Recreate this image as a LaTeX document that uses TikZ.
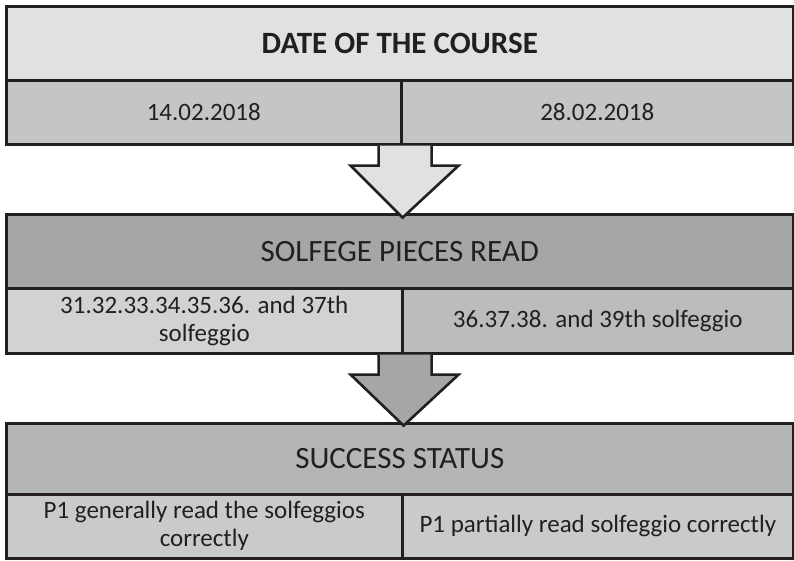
\documentclass[tikz,border=0pt]{standalone}
\usepackage{fontspec}
\setmainfont{Carlito}
\usetikzlibrary{calc}
\definecolor{edge}{HTML}{231F20}
\definecolor{hdA}{HTML}{E0E1E3}
\definecolor{rowA}{HTML}{C4C5C7}
\definecolor{hdB}{HTML}{A5A6A8}
\definecolor{rowBl}{HTML}{D1D2D4}
\definecolor{rowBr}{HTML}{BBBCBE}
\definecolor{hdC}{HTML}{B4B5B7}
\definecolor{rowC}{HTML}{C9CACC}
\tikzset{
  cell/.style={draw=edge, line width=2.6pt, anchor=north west, inner sep=0pt,
    align=center, text=edge, font=\fontsize{25}{28}\selectfont},
  head/.style={cell, font=\fontsize{31}{34}\selectfont},
  flow/.style={draw=edge, line width=2.6pt, line join=miter},
}
\begin{document}
\begin{tikzpicture}[x=1pt,y=-1pt]
\useasboundingbox (0,0) rectangle (794,560);
% first block: course dates
\node[head, fill=hdA, minimum width=787pt, minimum height=74pt, font=\fontsize{31}{34}\selectfont\bfseries] (h1) at (5,5) {DATE OF THE COURSE};
\node[cell, fill=rowA, minimum width=395pt, minimum height=64pt] (a1) at (5,79) {14.02.2018};
\node[cell, fill=rowA, minimum width=392pt, minimum height=64pt] (b1) at (400,79) {28.02.2018};
% second block: pieces read
\node[head, fill=hdB, minimum width=787pt, minimum height=74pt] (h2) at (5,213) {SOLFEGE PIECES READ};
\node[cell, fill=rowBl, minimum width=396pt, minimum height=65pt] (a2) at (5,287) {31.32.33.34.35.36. and 37th\\solfeggio};
\node[cell, fill=rowBr, minimum width=391pt, minimum height=65pt] (b2) at (401,287) {36.37.38. and 39th solfeggio};
% third block: success status
\node[head, fill=hdC, minimum width=787pt, minimum height=71pt] (h3) at (5,422) {SUCCESS STATUS};
\node[cell, fill=rowC, minimum width=396pt, minimum height=64pt] (a3) at (5,493) {P1 generally read the solfeggios\\correctly};
\node[cell, fill=rowC, minimum width=391pt, minimum height=64pt] (b3) at (401,493) {P1 partially read solfeggio correctly};
% block arrows between the blocks
\coordinate (t1) at ($(a1.south east)+(0,72)$);
\draw[flow, fill=hdA] ($(a1.south east)+(-24,0)$) -- ++(0,20) -- ++(-28,0) -- (t1)
  -- ($(a1.south east)+(56,20)$) -- ++(-27,0) -- ($(a1.south east)+(29,0)$);
\coordinate (t2) at ($(a2.south east)+(0,71)$);
\draw[flow, fill=hdB] ($(a2.south east)+(-25,0)$) -- ++(0,20) -- ++(-28,0) -- (t2)
  -- ($(a2.south east)+(55,20)$) -- ++(-27,0) -- ($(a2.south east)+(28,0)$);
\end{tikzpicture}
\end{document}
